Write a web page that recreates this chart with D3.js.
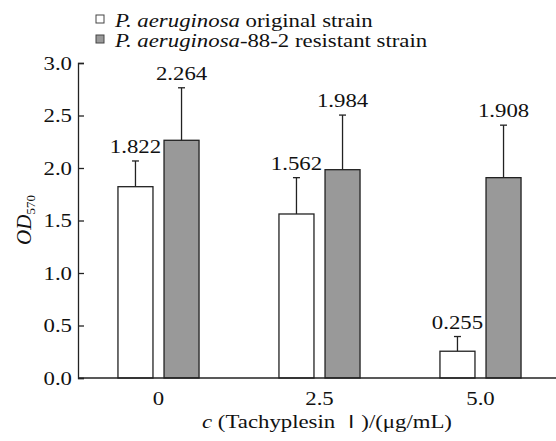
<!DOCTYPE html>
<head>
  <meta charset="utf-8">
  <script src="https://d3js.org/d3.v7.min.js"></script>
  <style>
    body { margin: 0; background: #fff; }
    svg { width: 556px; height: 441px; display: block; }
    text { font-family: "Liberation Serif", "Times New Roman", serif; fill: #111; }
  </style>
</head>

<body>
  <svg></svg>
  <script>
    var doses = ['0', '2.5', '5.0'];
    var series = ['original', 'resistant'];
    var originalValues = [1.822, 1.562, 0.255];
    var resistantValues = [2.264, 1.984, 1.908];
    var originalErrors = [0.245, 0.346, 0.14];
    var resistantErrors = [0.50, 0.52, 0.50];
    var yTicks = [0, 0.5, 1.0, 1.5, 2.0, 2.5, 3.0];

    var svg = d3.select('svg');
    var plotLeft = 78, plotTop = 63, plotBottom = 378;
    var sx = 1.2; // glyphs in the reference are a bit wide

    var x = d3.scaleBand().domain(doses).range([plotLeft, plotLeft + 3 * 161]).padding(0);
    var sub = d3.scaleBand().domain(series).range([-41, 41]).paddingInner(0.24).paddingOuter(0.01);
    var y = d3.scaleLinear().domain([0, 3]).range([plotBottom, plotTop]);
    var fills = { original: '#ffffff', resistant: '#999999' };

    var rows = [];
    doses.forEach(function(d, i) {
      rows.push({ dose: d, s: 'original', v: originalValues[i], e: originalErrors[i] });
      rows.push({ dose: d, s: 'resistant', v: resistantValues[i], e: resistantErrors[i] });
    });
    function cx(d) { return x(d.dose) + x.bandwidth() / 2 + sub(d.s) + sub.bandwidth() / 2; }

    // error bars (upward only)
    var err = svg.append('g').attr('stroke', '#222').attr('stroke-width', 1.3);
    err.selectAll('line.v').data(rows).enter().append('line')
      .attr('x1', cx).attr('x2', cx)
      .attr('y1', function(d) { return y(d.v); })
      .attr('y2', function(d) { return y(d.v + d.e); });
    err.selectAll('line.cap').data(rows).enter().append('line')
      .attr('x1', function(d) { return cx(d) - 3.5; })
      .attr('x2', function(d) { return cx(d) + 3.5; })
      .attr('y1', function(d) { return y(d.v + d.e); })
      .attr('y2', function(d) { return y(d.v + d.e); });

    svg.append('g').selectAll('rect').data(rows).enter().append('rect')
      .attr('x', function(d) { return cx(d) - sub.bandwidth() / 2; })
      .attr('width', sub.bandwidth())
      .attr('y', function(d) { return y(d.v); })
      .attr('height', function(d) { return plotBottom - y(d.v); })
      .attr('fill', function(d) { return fills[d.s]; })
      .attr('stroke', '#222').attr('stroke-width', 1.3);

    svg.append('g').selectAll('g').data(rows).enter().append('g')
      .attr('transform', function(d) { return 'translate(' + cx(d) + ',' + (y(d.v + d.e) - 8) + ')'; })
      .append('text')
      .attr('transform', 'scale(' + sx + ',1)')
      .attr('text-anchor', 'middle')
      .style('font-size', '19px')
      .text(function(d) { return d.v.toFixed(3); });

    // axes
    var yAxis = svg.append('g').attr('transform', 'translate(' + plotLeft + ',0)')
      .call(d3.axisRight(y).tickValues(yTicks).tickSize(6).tickFormat(d3.format('.1f')));
    yAxis.selectAll('text').attr('x', -5).attr('dy', '0.34em').attr('text-anchor', 'end')
      .attr('transform', 'scale(' + sx + ',1)').style('font-size', '19px');
    var xAxis = svg.append('g').attr('transform', 'translate(0,' + plotBottom + ')')
      .call(d3.axisBottom(x).tickSize(0).tickPadding(14));
    xAxis.select('.domain').attr('d', 'M' + plotLeft + ',0H556');
    xAxis.selectAll('text').attr('transform', 'scale(' + sx + ',1)').style('font-size', '19px');
    svg.selectAll('.domain, .tick line').attr('stroke', '#222').attr('stroke-width', 1.3);
    svg.selectAll('.tick text').attr('fill', '#111').style('font-family', '"Liberation Serif", serif');

    // axis titles
    var yl = svg.append('text').attr('transform', 'translate(31,220)rotate(-90)')
      .attr('text-anchor', 'middle').style('font-size', '21px');
    yl.append('tspan').style('font-style', 'italic').text('OD');
    yl.append('tspan').attr('dy', 4).style('font-size', '13px').text('570');

    var xl = svg.append('g').attr('transform', 'translate(327,428)').append('text')
      .attr('transform', 'scale(' + sx + ',1)')
      .attr('text-anchor', 'middle').style('font-size', '19px');
    xl.append('tspan').style('font-style', 'italic').text('c');
    xl.append('tspan').text(' (Tachyplesin ');
    xl.append('tspan').style('font-family', '"Noto Sans CJK SC"').style('font-size', '17px').text('\u2160');
    xl.append('tspan').text(')/(\u03bcg/mL)');

    // legend
    var legend = svg.append('g').selectAll('g').data(series).enter().append('g')
      .attr('transform', function(d, i) { return 'translate(96,' + (15 + i * 20) + ')'; });
    legend.append('rect').attr('width', 8).attr('height', 8)
      .attr('fill', function(d) { return fills[d]; }).attr('stroke', '#444').attr('stroke-width', 1);
    var lt = legend.append('text').attr('transform', 'translate(19,12)scale(' + sx + ',1)')
      .style('font-size', '19px');
    lt.append('tspan').style('font-style', 'italic').text('P. aeruginosa');
    lt.append('tspan').text(function(d) { return d === 'original' ? ' original strain' : '-88-2 resistant strain'; });
  </script>
</body>
